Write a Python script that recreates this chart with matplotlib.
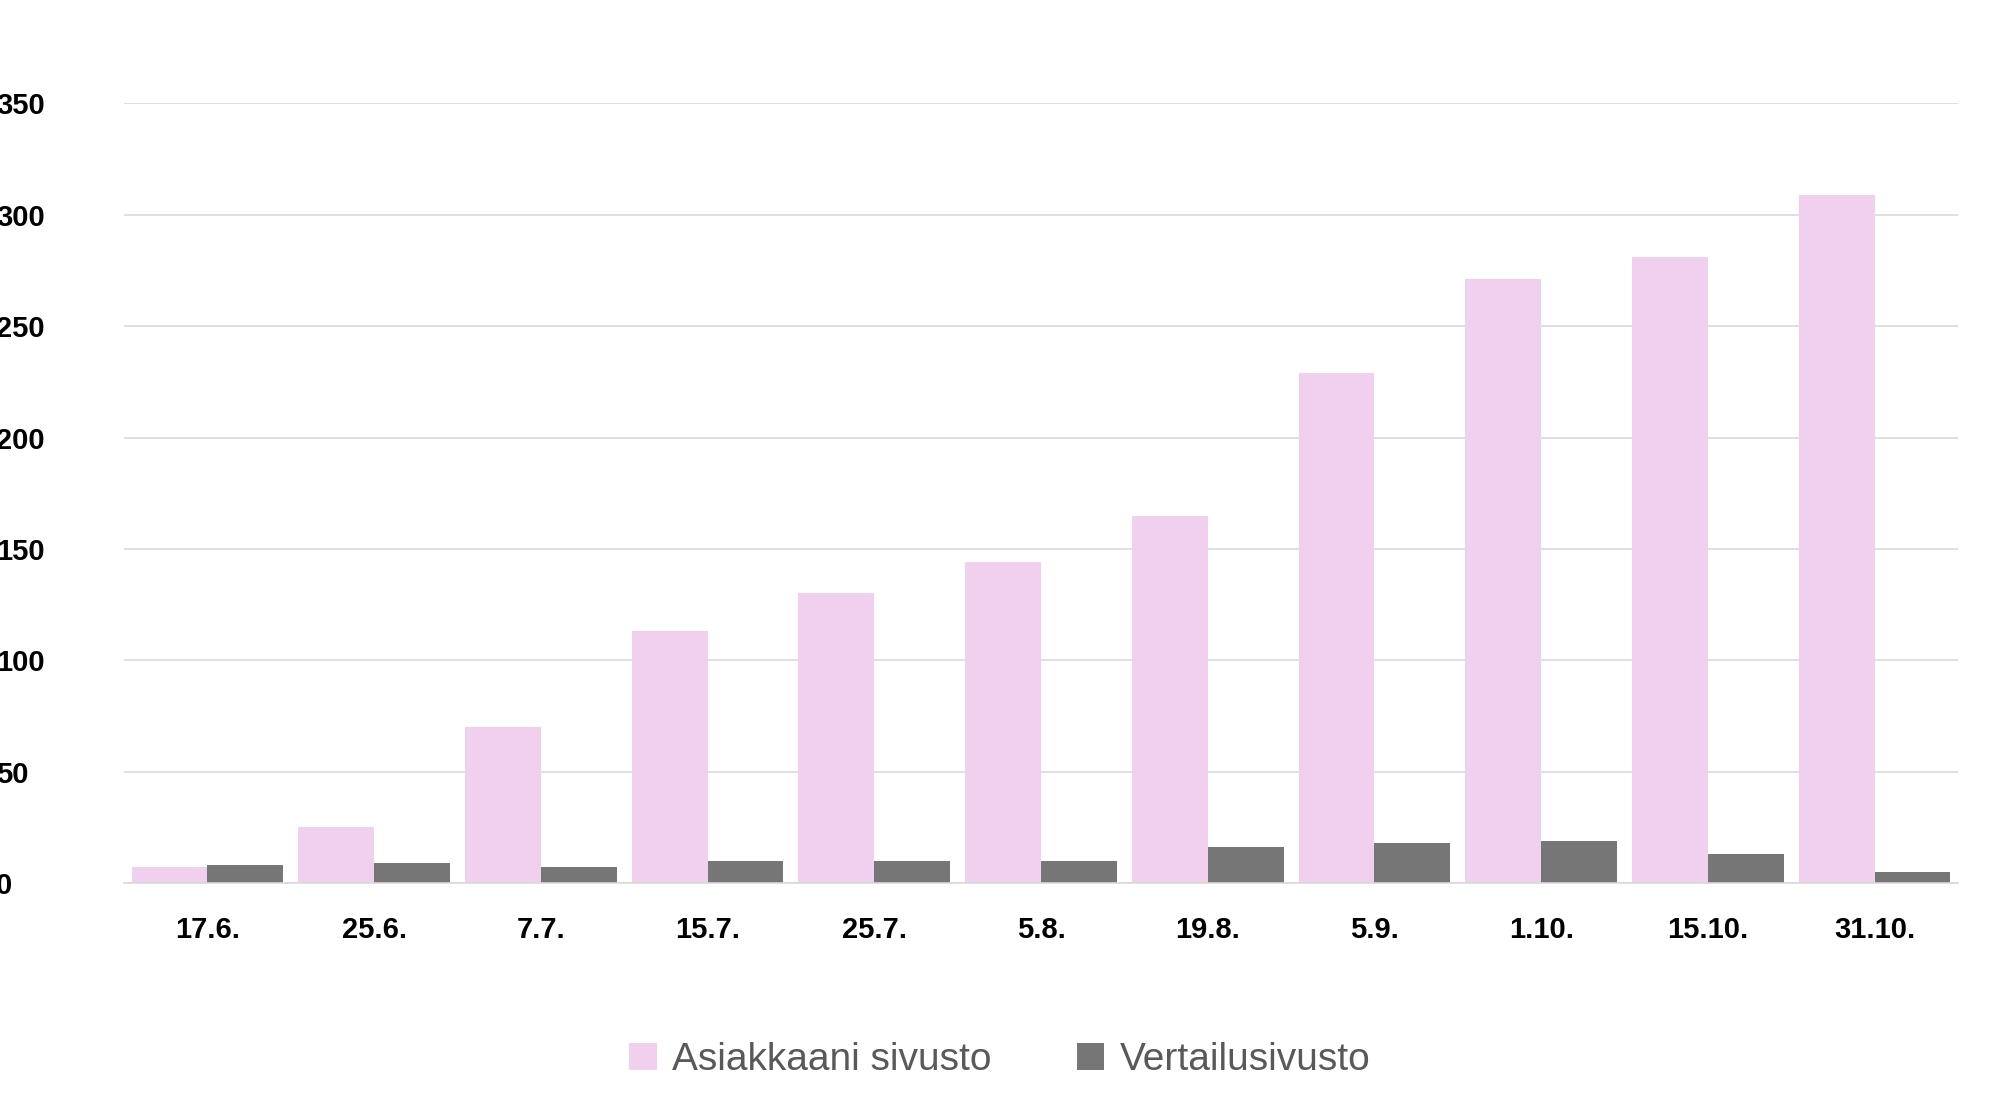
import numpy as np
import matplotlib
matplotlib.use("Agg")
import matplotlib.pyplot as plt

plt.rcParams["font.family"] = ["Liberation Sans", "DejaVu Sans"]

dates = ["17.6.", "25.6.", "7.7.", "15.7.", "25.7.", "5.8.", "19.8.", "5.9.", "1.10.", "15.10.", "31.10."]
asiakas = [7, 25, 70, 113, 130, 144, 165, 229, 271, 281, 309]
vertailu = [8, 9, 7, 10, 10, 10, 16, 18, 19, 13, 5]

fig = plt.figure(figsize=(20, 11.01), dpi=100)
ax = fig.add_axes([0.062, 0.198, 0.917, 0.708])

x = np.arange(len(dates))
w = 0.455
ax.bar(x - w / 2, asiakas, w, color="#f1cfee", label="Asiakkaani sivusto", zorder=2)
ax.bar(x + w / 2, vertailu, w, color="#767676", label="Vertailusivusto", zorder=2)

ax.set_xlim(-0.5, len(dates) - 0.5)
ax.set_ylim(0, 350)
ax.set_yticks(range(0, 351, 50))
ax.grid(axis="y", color="#d9d9d9", linewidth=1.2, zorder=0)
for s in ["top", "right", "left"]:
    ax.spines[s].set_visible(False)
ax.spines["bottom"].set_color("#d9d9d9")
ax.spines["bottom"].set_linewidth(1.2)
ax.tick_params(length=0, labelsize=21)
ax.tick_params(axis="x", pad=24)
ax.tick_params(axis="y", pad=92)
ax.set_xticks(x)
ax.set_xticklabels(dates)
for lbl in ax.get_xticklabels() + ax.get_yticklabels():
    lbl.set_fontweight("bold")
for lbl in ax.get_yticklabels():
    lbl.set_horizontalalignment("left")

fig.legend(loc="center", bbox_to_anchor=(0.5, 0.037), ncol=2, frameon=False,
           fontsize=28, labelcolor="#595959", handlelength=0.7, handleheight=0.7,
           columnspacing=2.2, handletextpad=0.4)

fig.savefig("out.png")
